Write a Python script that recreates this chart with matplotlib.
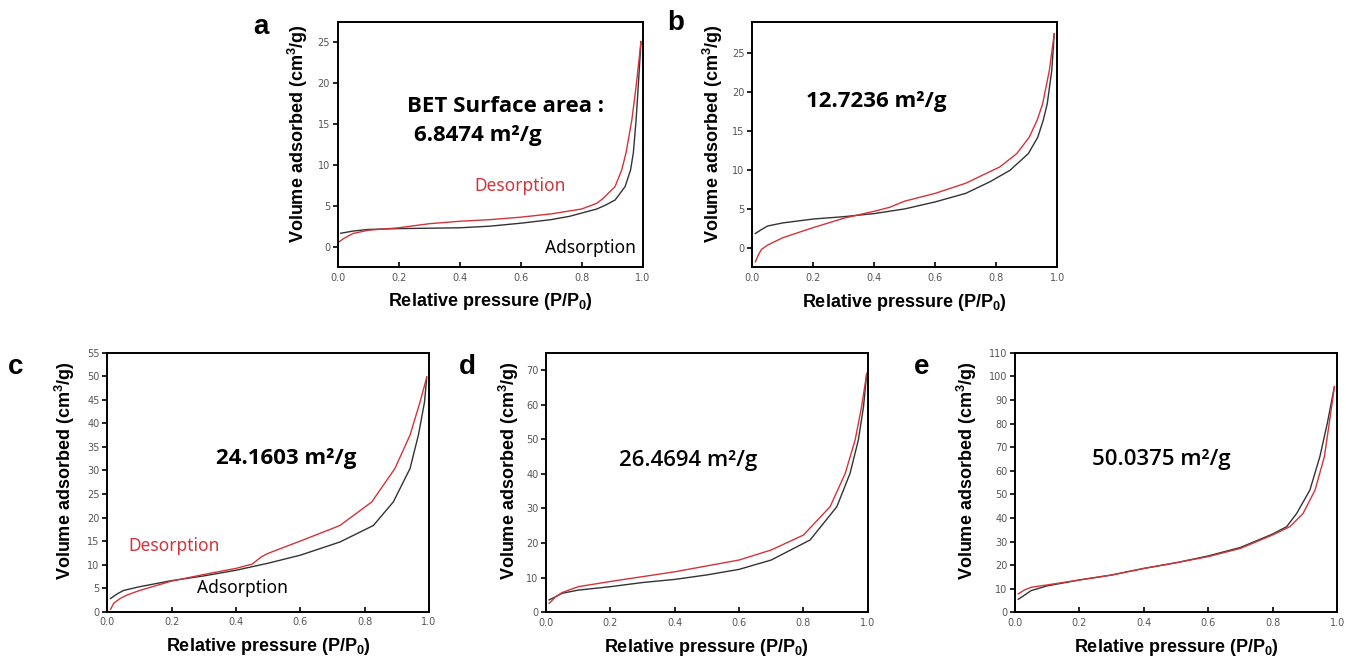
import matplotlib
matplotlib.use("Agg")
import matplotlib.pyplot as plt
import numpy as np

plt.rcParams['mathtext.fontset'] = 'custom'
plt.rcParams['mathtext.rm'] = 'Liberation Sans'
plt.rcParams['mathtext.bf'] = 'Liberation Sans:bold'

# ---------------- data ----------------
# panel a
a_p_ads = [0.01, 0.05, 0.1, 0.2, 0.3, 0.4, 0.5, 0.6, 0.7, 0.76, 0.8, 0.85, 0.88, 0.91, 0.943, 0.961, 0.970, 0.979, 0.986, 0.995]
a_v_ads = [1.63, 1.9, 2.1, 2.2, 2.25, 2.3, 2.5, 2.86, 3.3, 3.7, 4.1, 4.6, 5.1, 5.7, 7.35, 9.4, 11.5, 15.5, 19.6, 25.1]
a_p_des = [0.005, 0.02, 0.05, 0.1, 0.2, 0.3, 0.4, 0.5, 0.6, 0.7, 0.8, 0.85, 0.871, 0.91, 0.932, 0.946, 0.965, 0.979, 0.995]
a_v_des = [0.6, 1.0, 1.6, 2.0, 2.3, 2.8, 3.1, 3.3, 3.6, 4.0, 4.6, 5.3, 5.9, 7.35, 9.4, 11.5, 15.5, 19.6, 25.1]

# panel b
b_p_ads = [0.01, 0.03, 0.05, 0.1, 0.2, 0.3, 0.4, 0.5, 0.6, 0.7, 0.78, 0.845, 0.905, 0.936, 0.954, 0.967, 0.982, 0.99]
b_v_ads = [1.84, 2.35, 2.8, 3.2, 3.7, 4.0, 4.4, 5.0, 5.9, 7.0, 8.5, 9.96, 12.1, 14.2, 16.4, 18.5, 22.8, 27.5]
b_p_des = [0.01, 0.02, 0.03, 0.05, 0.1, 0.2, 0.3, 0.4, 0.45, 0.5, 0.6, 0.7, 0.812, 0.867, 0.908, 0.934, 0.952, 0.974, 0.99]
b_v_des = [-1.8, -0.9, -0.2, 0.35, 1.3, 2.6, 3.8, 4.7, 5.2, 6.0, 7.0, 8.3, 10.4, 12.1, 14.2, 16.4, 18.5, 22.8, 27.5]

# panel c
c_p_ads = [0.01, 0.03, 0.05, 0.1, 0.2, 0.3, 0.4, 0.5, 0.6, 0.723, 0.827, 0.889, 0.941, 0.967, 0.986, 0.993]
c_v_ads = [2.8, 3.75, 4.5, 5.3, 6.6, 7.6, 8.8, 10.3, 12.0, 14.8, 18.3, 23.3, 30.4, 37.5, 44.5, 49.8]
c_p_des = [0.01, 0.02, 0.04, 0.06, 0.1, 0.2, 0.3, 0.4, 0.45, 0.48, 0.5, 0.6, 0.723, 0.822, 0.894, 0.941, 0.972, 0.993]
c_v_des = [0.5, 1.8, 2.8, 3.5, 4.5, 6.5, 7.9, 9.2, 10.1, 11.7, 12.4, 15.0, 18.3, 23.3, 30.4, 37.5, 44.5, 49.8]

# panel d
d_p_ads = [0.01, 0.03, 0.05, 0.1, 0.2, 0.3, 0.4, 0.5, 0.6, 0.7, 0.821, 0.904, 0.945, 0.971, 0.987, 0.997]
d_v_ads = [3.6, 4.5, 5.5, 6.4, 7.4, 8.6, 9.5, 10.8, 12.4, 15.1, 20.9, 30.5, 40.1, 49.8, 59.4, 69.0]
d_p_des = [0.01, 0.03, 0.05, 0.1, 0.2, 0.3, 0.4, 0.5, 0.6, 0.7, 0.8, 0.883, 0.930, 0.961, 0.981, 0.997]
d_v_des = [2.6, 4.5, 5.7, 7.4, 8.9, 10.3, 11.7, 13.4, 15.1, 18.0, 22.3, 30.5, 40.1, 49.8, 59.4, 69.0]

# panel e
e_p_ads = [0.01, 0.03, 0.05, 0.1, 0.2, 0.3, 0.4, 0.5, 0.6, 0.7, 0.8, 0.843, 0.874, 0.915, 0.946, 0.969, 0.991]
e_v_ads = [5.5, 7.3, 9.2, 11.2, 13.7, 15.8, 18.6, 21.0, 23.9, 27.5, 33.2, 36.3, 41.9, 51.8, 66.0, 80.1, 95.6]
e_p_des = [0.01, 0.03, 0.05, 0.1, 0.2, 0.3, 0.4, 0.5, 0.6, 0.7, 0.8, 0.853, 0.894, 0.931, 0.960, 0.975, 0.991]
e_v_des = [7.8, 9.5, 10.6, 11.6, 13.7, 15.8, 18.6, 21.0, 23.6, 27.1, 32.8, 36.3, 41.9, 51.8, 66.0, 80.1, 95.6]

panel_letters = ['a', 'b', 'c', 'd', 'e']
area_texts = ['6.8474 m\u00b2/g', '12.7236 m\u00b2/g', '24.1603 m\u00b2/g', '26.4694 m\u00b2/g', '50.0375 m\u00b2/g']
ylims = [(-2.5, 27.5), (-2.5, 29.0), (0, 55), (0, 75), (0, 110)]
yticks = [np.arange(0, 26, 5), np.arange(0, 26, 5), np.arange(0, 56, 5), np.arange(0, 71, 10), np.arange(0, 111, 10)]
xticks = [0.0, 0.2, 0.4, 0.6, 0.8, 1.0]

W, H = 1346, 657
fig = plt.figure(figsize=(W / 100, H / 100), dpi=100)

# axes boxes in pixels: left, right, top, bottom
boxes = [(337.7, 642.5, 22, 267), (752.3, 1057.3, 22, 267.3),
         (107.3, 429, 352.7, 611.7), (546, 867.7, 352.7, 612.3), (1015, 1337.3, 352.7, 612.3)]
ylab_x = [-0.090, -0.090, -0.094, -0.079, -0.113]
xlab_y = [-0.100, -0.100, -0.094, -0.094, -0.094]

RED = '#d2343a'
BLACK = '#333333'

series = [(a_p_ads, a_v_ads, a_p_des, a_v_des), (b_p_ads, b_v_ads, b_p_des, b_v_des),
          (c_p_ads, c_v_ads, c_p_des, c_v_des), (d_p_ads, d_v_ads, d_p_des, d_v_des),
          (e_p_ads, e_v_ads, e_p_des, e_v_des)]

for i, (l, r, t, b) in enumerate(boxes):
    ax = fig.add_axes([l / W, 1 - b / H, (r - l) / W, (b - t) / H])
    pa, va, pd_, vd = series[i]
    ax.plot(pa, va, color=BLACK, lw=1.0)
    ax.plot(pd_, vd, color=RED, lw=1.0)
    ax.set_xlim(0, 1.0)
    ax.set_ylim(*ylims[i])
    ax.set_xticks(xticks)
    ax.set_xticklabels([f'{v:.1f}' for v in xticks])
    ax.set_yticks(yticks[i])
    ax.tick_params(axis='x', direction='in', length=3.5, width=1.2, labelsize=7, labelcolor='#555555', pad=4)
    ax.tick_params(axis='y', direction='out', length=3.5, width=1.2, labelsize=7, labelcolor='#555555', pad=2)
    for s in ax.spines.values():
        s.set_linewidth(1.4)
    ax.set_xlabel(r'Relative pressure (P/P$_{\mathbf{0}}$)', fontsize=13, fontweight='bold',
                  family='Liberation Sans')
    ax.xaxis.set_label_coords(0.5, xlab_y[i])
    ax.set_ylabel(r'Volume adsorbed (cm$^{\mathbf{3}}$/g)', fontsize=13, fontweight='bold',
                  family='Liberation Sans')
    ax.yaxis.set_label_coords(ylab_x[i], 0.545)

def ftext(x, y, s, **kw):
    fig.text(x / W, 1 - y / H, s, **kw)

# panel letters
letter_pos = [(261, 27), (676, 23), (16, 367), (467, 367), (922, 367)]
for (x, y), s in zip(letter_pos, panel_letters):
    ftext(x, y, s, fontsize=20, fontweight='bold', family='Liberation Sans', ha='center', va='center')

ANN = ['Open Sans', 'DejaVu Sans']
# annotations
ftext(406.7, 107, 'BET Surface area :', fontsize=16, fontweight='bold', family=ANN, va='center')
ftext(414.3, 135, area_texts[0], fontsize=16, fontweight='bold', family=ANN, va='center')
ftext(805.7, 101, area_texts[1], fontsize=16, fontweight='bold', family=ANN, va='center')
ftext(216, 458.3, area_texts[2], fontsize=16, fontweight='bold', family=ANN, va='center')
ftext(619, 460.7, area_texts[3], fontsize=16, fontweight='semibold', family=ANN, va='center')
ftext(1091.7, 459.3, area_texts[4], fontsize=16, fontweight='semibold', family=ANN, va='center')

ftext(474.3, 185.7, 'Desorption', fontsize=12.5, color=RED, family='Noto Sans', va='center')
ftext(545, 248.3, 'Adsorption', fontsize=12.5, color='black', family='Noto Sans', va='center')
ftext(128.3, 545.7, 'Desorption', fontsize=12.5, color=RED, family='Noto Sans', va='center')
ftext(196.7, 587.7, 'Adsorption', fontsize=12.5, color='black', family='Noto Sans', va='center')

fig.savefig('out.png', dpi=100)
